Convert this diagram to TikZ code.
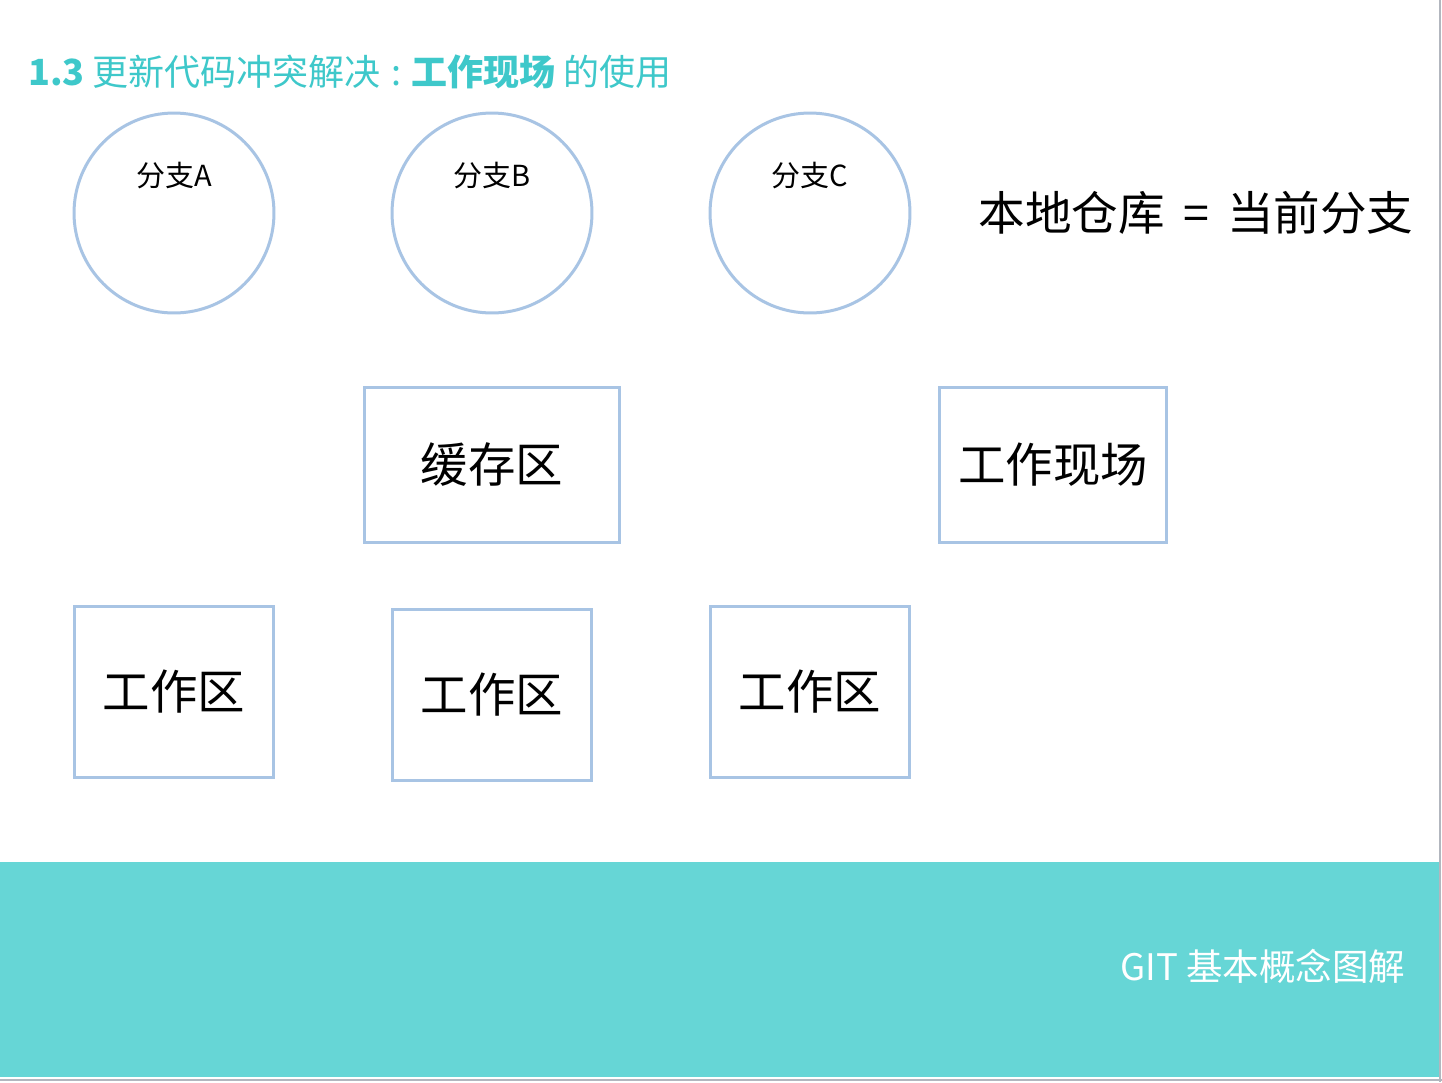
\documentclass[tikz,border=0pt]{standalone}
\usepackage{fontspec}
\setmainfont{Noto Sans CJK SC}
\usepackage{tikz}
\usetikzlibrary{positioning}
\definecolor{bandteal}{RGB}{102,214,214}
\definecolor{titleteal}{RGB}{62,200,202}
\definecolor{edgeblue}{RGB}{168,196,228}
\definecolor{framegray}{RGB}{178,182,190}
\tikzset{
  branch/.style={circle, draw=edgeblue, line width=0.06cm, fill=white,
                 minimum size=4cm, inner sep=0pt},
  blabel/.style={font=\fontsize{16.5}{19}\selectfont, text=black},
  area/.style={rectangle, draw=edgeblue, line width=0.06cm, fill=white,
               minimum width=4cm, minimum height=3.44cm, inner sep=0pt,
               font=\fontsize{27}{31}\selectfont}
}

\begin{document}
\begin{tikzpicture}[x=0.02cm, y=-0.02cm]
  \useasboundingbox (0,0) rectangle (1442,1082);
  \fill[white] (0,0) rectangle (1442,1082);
  % footer band
  \fill[bandteal] (0,862) rectangle (1439,1077);
  \draw[framegray, line width=0.05cm] (1440,0) -- (1440,1082);
  \draw[framegray, line width=0.05cm] (0,1080) -- (1442,1080);

  \node[anchor=west, text=titleteal, font=\fontsize{20.5}{24}\selectfont]
    (title) at (22,72) {\textbf{1.3} 更新代码冲突解决\makebox[0.85em]{:}\textbf{工作现场} 的使用};

  % branches
  \node[branch] (brA) at (174,213) {};
  \node[branch] (brB) at (492,213) {};
  \node[branch] (brC) at (810,213) {};
  \node[blabel] (labA) at (174,176) {分支A};
  \node[blabel] (labB) at (492,176) {分支B};
  \node[blabel] (labC) at (810,176) {分支C};

  \node[font=\fontsize{26.5}{30}\selectfont] (repo) at (1196,213) {本地仓库\ \,=\ \,当前分支};

  % areas
  \node[area, minimum width=5.12cm, minimum height=3.1cm] (cache) at (492,465) {缓存区};
  \node[area, minimum width=4.54cm, minimum height=3.1cm] (stash) at (1053,465) {工作现场};
  \node[area] (workA) at (174,692) {工作区};
  \node[area] (workB) at (492,695) {工作区};
  \node[area] (workC) at (810,692) {工作区};

  \node[anchor=west, text=white, font=\fontsize{20.8}{24}\selectfont]
    (footer) at (1114,966) {GIT 基本概念图解};
\end{tikzpicture}
\end{document}
